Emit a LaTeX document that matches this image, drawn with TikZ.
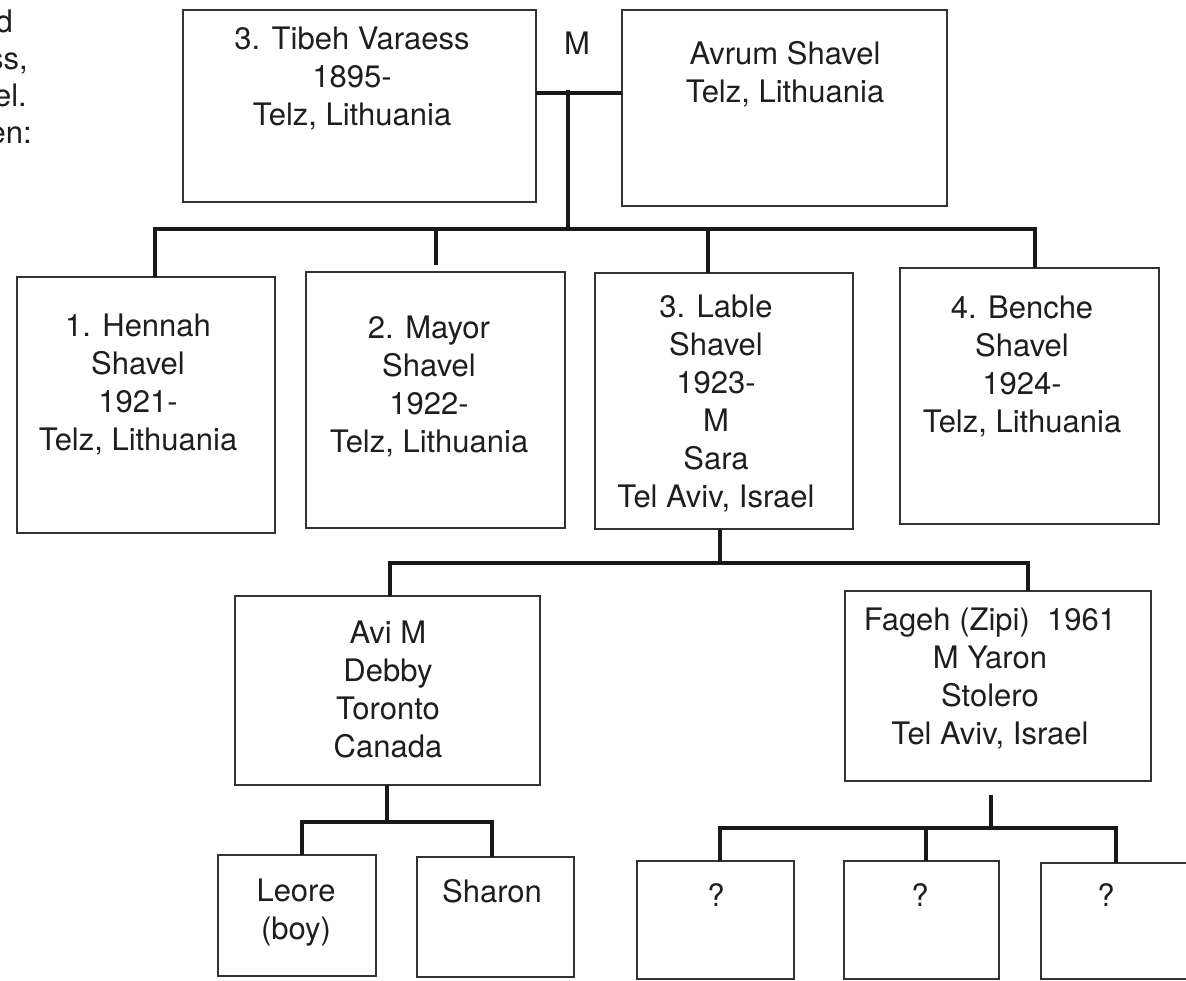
\documentclass[tikz,border=0pt]{standalone}
\usepackage{fontspec}
\setmainfont{TeX Gyre Heros}
\definecolor{boxgray}{HTML}{333333}
\definecolor{textcol}{HTML}{1E1E1E}
\newcommand\famboxat[5]{\node[famrect, minimum width={#4-#2}, minimum height={#5-#3}] (#1) at (#2,#3) {};}
\begin{document}
\begin{tikzpicture}[x=1pt,y=-1pt,
  famrect/.style={draw=boxgray, line width=2.2pt, inner sep=0pt, outer sep=0pt, anchor=north west, fill=none},
  conn/.style={draw=black!90, line width=4.8pt, line join=miter},
  txt/.style={font=\fontsize{31}{38}\selectfont, text=textcol, inner sep=0pt, align=center, anchor=base},
  frag/.style={font=\fontsize{31}{38}\selectfont, text=textcol, inner sep=0pt, anchor=base east}]
\useasboundingbox (0,0) rectangle (1186,981);
\clip (0,0) rectangle (1186,981);

% partial text at the left edge (cut off in the source)
\node[frag] (f1) at (13,33) {d};
\node[frag] (f2) at (28,70) {ss,};
\node[frag] (f3) at (27,107) {el.};
\node[frag] (f4) at (32,144) {en:};

% boxes
\famboxat{tibeh}{183}{10}{536}{202}
\famboxat{avrum}{622}{10}{947}{206}
\famboxat{hennah}{17}{277}{275}{533}
\famboxat{mayor}{306}{272}{565}{528}
\famboxat{lable}{595}{273}{853}{529}
\famboxat{benche}{900}{268}{1159}{524}
\famboxat{avi}{235}{596}{540}{785}
\famboxat{fageh}{845}{591}{1151}{781}
\famboxat{leore}{218}{855}{376}{976}
\famboxat{sharon}{417}{857}{574}{977}
\famboxat{qa}{637}{861}{794}{979}
\famboxat{qb}{844}{861}{999}{979}
\famboxat{qc}{1041}{863}{1230}{979}

% texts (anchored at the baseline of the last line)
\node[txt] (tibehT) at (352,126) {3. Tibeh Varaess\\1895-\\Telz, Lithuania};
\node[txt] (mlab) at (577,55) {M};
\node[txt] (avrumT) at (785,103) {Avrum Shavel\\Telz, Lithuania};
\node[txt] (hennahT) at (138,450) {1. Hennah\\Shavel\\1921-\\Telz, Lithuania};
\node[txt] (mayorT) at (429,452) {2. Mayor\\Shavel\\1922-\\Telz, Lithuania};
\node[txt] (lableT) at (716,507) {3. Lable\\Shavel\\1923-\\M\\Sara\\Tel Aviv, Israel};
\node[txt] (bencheT) at (1022,432) {4. Benche\\Shavel\\1924-\\Telz, Lithuania};
\node[txt] (aviT) at (388,757) {Avi M\\Debby\\Toronto\\Canada};
\node[txt] (fagehT) at (990,744) {Fageh (Zipi)\ \ 1961\\M Yaron\\Stolero\\Tel Aviv, Israel};
\node[txt] (leoreT) at (296,939) {Leore\\(boy)};
\node[txt] (sharonT) at (492,902) {Sharon};
\node[txt] (qaT) at (716,906) {?};
\node[txt] (qbT) at (920,906) {?};
\node[txt] (qcT) at (1106,906) {?};

% connectors
\coordinate (mj) at (568,93);
\coordinate (mtop) at (568,90);
\coordinate (bus1) at (568,229);
\draw[conn] (mj -| tibeh.east) -- (mj -| avrum.west);
\draw[conn] (mtop) -- (bus1);
\coordinate (b1L) at (155,229);
\coordinate (b1R) at (1035,229);
\draw[conn] (b1L |- hennah.north) -- (b1L) -- (b1R) -- (b1R |- benche.north);
\coordinate (mayorstub) at (436,265);
\draw[conn] (mayorstub |- b1L) -- (mayorstub);
\coordinate (lx) at (708,229);
\draw[conn] (lx) -- (lx |- lable.north);

\coordinate (b2c) at (720,563);
\draw[conn] (b2c |- lable.south) -- (b2c);
\coordinate (b2L) at (390,563);
\coordinate (b2R) at (1028,563);
\draw[conn] (b2L |- avi.north) -- (b2L) -- (b2R) -- (b2R |- fageh.north);

\coordinate (b3c) at (387,822);
\draw[conn] (b3c |- avi.south) -- (b3c);
\coordinate (b3L) at (302,822);
\coordinate (b3R) at (492,822);
\draw[conn] (b3L |- leore.north) -- (b3L) -- (b3R) -- (b3R |- sharon.north);

\coordinate (fstub) at (991,795);
\coordinate (b4c) at (991,828);
\draw[conn] (fstub) -- (b4c);
\coordinate (b4L) at (720,828);
\coordinate (b4M) at (926,828);
\coordinate (b4R) at (1116,828);
\draw[conn] (b4L |- qa.north) -- (b4L) -- (b4R) -- (b4R |- qc.north);
\draw[conn] (b4M) -- (b4M |- qb.north);
\end{tikzpicture}
\end{document}
